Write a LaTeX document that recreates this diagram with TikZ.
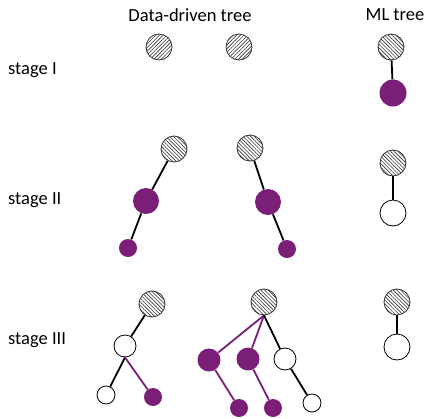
\documentclass[tikz,border=0pt]{standalone}
\usepackage{fontspec}
\setmainfont{Carlito}
\usetikzlibrary{patterns.meta}
\definecolor{plum}{RGB}{122,30,120}
\tikzset{
  x=1bp, y=-1bp,
  hatchne/.style={circle, draw=black!80, line width=0.8bp, inner sep=0pt, minimum size=#1,
    pattern={Lines[angle=45,distance=2.6bp,line width=0.6bp]}, pattern color=black!80},
  hatchnw/.style={circle, draw=black!80, line width=0.8bp, inner sep=0pt, minimum size=#1,
    pattern={Lines[angle=-45,distance=2.6bp,line width=0.6bp]}, pattern color=black!80},
  leaf/.style={circle, draw=black, line width=0.8bp, fill=white, inner sep=0pt, minimum size=#1},
  hit/.style={circle, fill=plum, inner sep=0pt, minimum size=#1},
  blackedge/.style={line width=1.8bp, black},
  plumedge/.style={line width=1.8bp, plum},
  label/.style={font=\fontsize{18.5bp}{22bp}\selectfont, inner sep=0pt}
}
\begin{document}
\begin{tikzpicture}
\useasboundingbox (0,0) rectangle (430,419);

% column headings
\node[label] (hdd) at (190,15) {Data-driven tree};
\node[label] (hml) at (395,15) {ML tree};

% row headings
\node[label, anchor=west] (s1) at (8,70) {stage I};
\node[label, anchor=west] (s2) at (8,200) {stage II};
\node[label, anchor=west] (s3) at (8,340) {stage III};

% stage I
\node[hatchne=26bp] (a1) at (159,47) {};
\node[hatchne=26bp] (a2) at (239,47) {};
\node[hatchnw=26bp] (m1r) at (391,47) {};
\node[hit=27bp] (m1c) at (393,93) {};
\draw[blackedge] (m1r) -- (m1c);

% stage II, first tree
\node[hatchnw=26bp] (b1r) at (174,149) {};
\node[hit=26bp] (b1m) at (146,201) {};
\node[hit=18bp] (b1l) at (128,248) {};
\draw[blackedge] (b1r) -- (b1m);
\draw[blackedge] (b1m) -- (b1l);

% stage II, second tree
\node[hatchnw=26bp] (b2r) at (250,148) {};
\node[hit=26bp] (b2m) at (268,202) {};
\node[hit=18bp] (b2l) at (287,249) {};
\draw[blackedge] (b2r) -- (b2m);
\draw[blackedge] (b2m) -- (b2l);

% stage II, ML tree
\node[hatchnw=26bp] (m2r) at (393,163) {};
\node[leaf=26bp] (m2c) at (393,213) {};
\draw[blackedge] (m2r) -- (m2c);

% stage III, first tree
\node[hatchnw=26bp] (c1r) at (152,304) {};
\node[leaf=22bp] (c1m) at (125,346) {};
\node[leaf=18bp] (c1l) at (106,395) {};
\node[hit=18bp] (c1p) at (153,397) {};
\draw[blackedge] (c1r) -- (c1m);
\draw[blackedge] (c1m.south) -- (c1l);
\draw[plumedge] (c1m.south) -- (c1p);

% stage III, second tree
\node[hatchnw=26bp] (c2r) at (264,302) {};
\node[hit=23bp] (c2p1) at (209,360) {};
\node[hit=23bp] (c2p2) at (248,359) {};
\node[leaf=22bp] (c2w) at (285,359) {};
\node[hit=18bp] (c2q1) at (239,408) {};
\node[hit=18bp] (c2q2) at (273,408) {};
\node[leaf=18bp] (c2wl) at (312,403) {};
\draw[plumedge] (c2r.south) -- (c2p1);
\draw[plumedge] (c2r.south) -- (c2p2);
\draw[blackedge] (c2r.south) -- (c2w);
\draw[plumedge] (c2p1) -- (c2q1);
\draw[plumedge] (c2p2) -- (c2q2);
\draw[blackedge] (c2w) -- (c2wl);

% stage III, ML tree
\node[hatchnw=26bp] (m3r) at (397,302) {};
\node[leaf=26bp] (m3c) at (397,347) {};
\draw[blackedge] (m3r) -- (m3c);
\end{tikzpicture}
\end{document}
